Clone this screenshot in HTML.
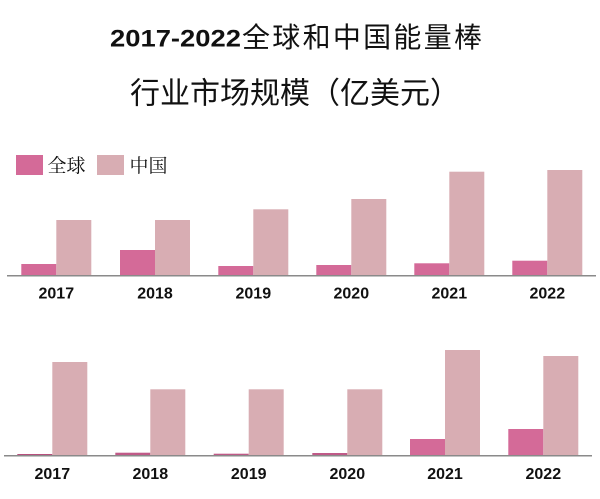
<!DOCTYPE html>
<html>
<head>
<meta charset="utf-8">
<style>
  html,body{margin:0;padding:0;background:#fff;}
  svg{display:block;}
  .yr{font-family:"Liberation Sans","Noto Sans CJK SC",sans-serif;font-weight:bold;font-size:16px;fill:#111;}
  .cjk{font-family:"Liberation Sans","Noto Sans CJK SC",sans-serif;fill:#111;}
  .serif{font-family:"Liberation Serif","Noto Serif CJK SC",serif;fill:#111;}
</style>
</head>
<body>
<svg width="600" height="499" viewBox="0 0 600 499" xmlns="http://www.w3.org/2000/svg">
  <rect width="600" height="499" fill="#fff"/>

  <!-- Title -->
  <text x="110" y="46.7" class="cjk" font-weight="bold" font-size="24" textLength="131" lengthAdjust="spacingAndGlyphs">2017-2022</text>
  <text x="242" y="47" class="cjk" font-size="28" textLength="240" lengthAdjust="spacing">全球和中国能量棒</text>
  <text x="130" y="103.5" class="cjk" font-size="30" textLength="330" lengthAdjust="spacing">行业市场规模（亿美元）</text>

  <!-- Legend -->
  <rect x="16" y="155" width="27" height="20" fill="#d46a98"/>
  <text x="47.5" y="172" class="serif" font-size="19">全球</text>
  <rect x="97" y="155" width="27" height="20" fill="#d8adb3"/>
  <text x="129.5" y="172" class="serif" font-size="19">中国</text>

  <!-- Top chart -->
  <g>
    <rect x="21.3" y="264" width="35" height="11.5" fill="#d46a98"/>
    <rect x="56.3" y="220" width="35" height="55.5" fill="#d8adb3"/>
    <rect x="120" y="250" width="35" height="25.5" fill="#d46a98"/>
    <rect x="155" y="220" width="35" height="55.5" fill="#d8adb3"/>
    <rect x="218.3" y="266" width="35" height="9.5" fill="#d46a98"/>
    <rect x="253.3" y="209.3" width="35" height="66.2" fill="#d8adb3"/>
    <rect x="316.3" y="265" width="35" height="10.5" fill="#d46a98"/>
    <rect x="351.3" y="199" width="35" height="76.5" fill="#d8adb3"/>
    <rect x="414.3" y="263.3" width="35" height="12.2" fill="#d46a98"/>
    <rect x="449.3" y="171.7" width="35" height="103.8" fill="#d8adb3"/>
    <rect x="512.3" y="260.7" width="35" height="14.8" fill="#d46a98"/>
    <rect x="547.3" y="170" width="35" height="105.5" fill="#d8adb3"/>
    <line x1="7" y1="275.8" x2="596" y2="275.8" stroke="#8a8a8a" stroke-width="1.5"/>
    <text x="56.3" y="298.5" class="yr" text-anchor="middle">2017</text>
    <text x="155" y="298.5" class="yr" text-anchor="middle">2018</text>
    <text x="253.3" y="298.5" class="yr" text-anchor="middle">2019</text>
    <text x="351.3" y="298.5" class="yr" text-anchor="middle">2020</text>
    <text x="449.3" y="298.5" class="yr" text-anchor="middle">2021</text>
    <text x="547.3" y="298.5" class="yr" text-anchor="middle">2022</text>
  </g>

  <!-- Bottom chart -->
  <g>
    <rect x="17.3" y="454" width="35" height="1.5" fill="#b8507e"/>
    <rect x="52.3" y="362" width="35" height="93.5" fill="#d8adb3"/>
    <rect x="115.3" y="452.7" width="35" height="2.8" fill="#c05a88"/>
    <rect x="150.3" y="389.3" width="35" height="66.2" fill="#d8adb3"/>
    <rect x="213.7" y="453.7" width="35" height="1.8" fill="#c05a88"/>
    <rect x="248.7" y="389.3" width="35" height="66.2" fill="#d8adb3"/>
    <rect x="312.3" y="453" width="35" height="2.5" fill="#c05a88"/>
    <rect x="347.3" y="389.3" width="35" height="66.2" fill="#d8adb3"/>
    <rect x="410" y="439" width="35" height="16.5" fill="#d46a98"/>
    <rect x="445" y="350" width="35" height="105.5" fill="#d8adb3"/>
    <rect x="508.3" y="429" width="35" height="26.5" fill="#d46a98"/>
    <rect x="543.3" y="356" width="35" height="99.5" fill="#d8adb3"/>
    <line x1="4" y1="455.8" x2="592" y2="455.8" stroke="#8a8a8a" stroke-width="1.5"/>
    <text x="52.3" y="479" class="yr" text-anchor="middle">2017</text>
    <text x="150.3" y="479" class="yr" text-anchor="middle">2018</text>
    <text x="248.7" y="479" class="yr" text-anchor="middle">2019</text>
    <text x="347.3" y="479" class="yr" text-anchor="middle">2020</text>
    <text x="445" y="479" class="yr" text-anchor="middle">2021</text>
    <text x="543.3" y="479" class="yr" text-anchor="middle">2022</text>
  </g>
</svg>
</body>
</html>
